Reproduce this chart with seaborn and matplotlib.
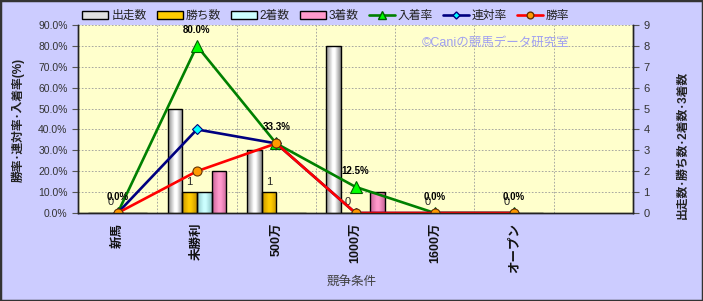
import numpy as np
import pandas as pd
import matplotlib
matplotlib.use("Agg")
import matplotlib.pyplot as plt
import seaborn as sns
from matplotlib.patches import Patch, Rectangle
from matplotlib.lines import Line2D
from matplotlib.colors import LinearSegmentedColormap
from matplotlib.ticker import MultipleLocator, FuncFormatter

# ---- data ----
categories = ["新馬", "未勝利", "500万", "1000万", "1600万", "オープン"]
starts = [0, 5, 3, 8, 0, 0]
wins = [0, 1, 1, 0, 0, 0]
seconds = [0, 1, 0, 0, 0, 0]
thirds = [0, 2, 0, 1, 0, 0]
place_rate = [0.0, 80.0, 33.3, 12.5, 0.0, 0.0]
rentai_rate = [0.0, 40.0, 33.3, 0.0, 0.0, 0.0]
win_rate = [0.0, 20.0, 33.3, 0.0, 0.0, 0.0]
count_names = ["出走数", "勝ち数", "2着数", "3着数"]
rate_names = ["入着率", "連対率", "勝率"]

sns.set_theme(style="white")
plt.rcParams["font.family"] = ["Liberation Sans", "Noto Sans CJK JP"]

df = pd.DataFrame({
    "条件": categories * 4,
    "系列": sum([[n] * len(categories) for n in count_names], []),
    "数": starts + wins + seconds + thirds,
})

bar_mid = ["#FFFFFF", "#FFCC00", "#CCFFFF", "#FF99CC"]
bar_edge = ["#8A8A8A", "#C89600", "#8FC8C8", "#C86496"]

fig = plt.figure(figsize=(7.03, 3.01), dpi=100, facecolor="#CCCCFF")
ax = fig.add_axes([78 / 703, 1 - 213 / 301, (633 - 78) / 703, (213 - 25) / 301])
ax.set_facecolor("#FFFFCC")

sns.barplot(data=df, x="条件", y="数", hue="系列", order=categories,
            hue_order=count_names, palette=bar_mid, width=0.74,
            edgecolor="black", linewidth=1.0, ax=ax, legend=False,
            errorbar=None, zorder=3)

# cylinder-like shading inside bars
grad = np.linspace(0, 1, 64).reshape(1, -1)
for cont, cm, ce in zip(ax.containers, bar_mid, bar_edge):
    cmap = LinearSegmentedColormap.from_list("g", [(0, ce), (0.45, cm), (0.6, cm), (1, ce)])
    for p in cont.patches:
        h = p.get_height()
        if h <= 0:
            continue
        x0, y0, w = p.get_x(), p.get_y(), p.get_width()
        im = ax.imshow(grad, cmap=cmap, extent=(x0, x0 + w, y0, y0 + h),
                       aspect="auto", zorder=2.9, interpolation="bilinear")
        im.set_clip_path(p)
        p.set_facecolor("none")

ax.bar_label(ax.containers[1], labels=[str(v) for v in wins], padding=4,
             fontsize=8, zorder=6)

ax2 = ax.twinx()
line_specs = [
    (place_rate, "#008000", "^", "#00FF00", "#006000", 8),
    (rentai_rate, "#000080", "D", "#00FFFF", "#000080", 4.8),
    (win_rate, "#FF0000", "o", "#FF9900", "#663300", 6.5),
]
for vals, lc, mk, mfc, mec, ms in line_specs:
    sns.pointplot(x=categories, y=vals, ax=ax2, color=lc, markers=mk,
                  errorbar=None, linewidth=1.9, markersize=ms,
                  markerfacecolor=mfc, markeredgecolor=mec,
                  markeredgewidth=0.8)

for i, v in enumerate(place_rate):
    ax2.annotate(f"{v:.1f}%", xy=(i, v), xytext=(0, 11.5),
                 textcoords="offset points", ha="center", va="center",
                 fontsize=7, fontweight="bold", color="black")

# axes setup
ax.set_xlim(-0.5, 6.5)
ax.set_ylim(0, 9)
ax2.set_ylim(0, 90)
ax.yaxis.tick_right()
ax.yaxis.set_label_position("right")
ax2.yaxis.tick_left()
ax2.yaxis.set_label_position("left")
ax.yaxis.set_major_locator(MultipleLocator(1))
ax2.yaxis.set_major_locator(MultipleLocator(10))
ax2.yaxis.set_major_formatter(FuncFormatter(lambda v, p: f"{v:.1f}%"))

ax.set_xticks(range(len(categories)))
ax.set_xticklabels(categories, rotation=90, fontsize=9, fontweight="bold")
ax.set_xticks(np.arange(0.5, 6.0, 1.0), minor=True)
ax.tick_params(axis="x", which="both", length=0, pad=7, labelcolor="#111111")
ax.tick_params(axis="y", which="major", labelsize=8, length=4, width=0.8,
               direction="out", color="#555555", labelcolor="#333333", right=True, left=False)
ax2.tick_params(axis="y", which="major", labelsize=7.5, length=4, width=0.8,
                direction="out", color="#555555", labelcolor="#333333", left=True, right=False)

ax.grid(True, axis="y", which="major", linestyle=(0, (2, 2)), color="#9a9a9a", linewidth=0.6, zorder=0)
ax.grid(True, axis="x", which="minor", linestyle=(0, (2, 2)), color="#9a9a9a", linewidth=0.6, zorder=0)
ax.grid(False, axis="x", which="major")
ax.set_axisbelow(True)
ax2.grid(False)

for a in (ax, ax2):
    a.set_xlabel("")
    a.set_ylabel("")
    a.spines["top"].set_visible(False)
    for s in ("left", "right", "bottom"):
        a.spines[s].set_color("#222222")
        a.spines[s].set_linewidth(1.0)

# axis titles
fig.text(18 / 703, 1 - 120 / 301, "勝率･連対率･入着率(%)", rotation=90,
         ha="center", va="center", fontsize=8.5, fontweight="bold", color="#222222")
fig.text(683 / 703, 1 - 145 / 301, "出走数･勝ち数･2着数･3着数", rotation=90,
         ha="center", va="center", fontsize=8.5, fontweight="bold", color="#222222")
fig.text(352 / 703, 1 - 283 / 301, "競争条件", ha="center", va="center",
         fontsize=9, color="#404040")

ax.text(0.752, 0.904, "©Caniの競馬データ研究室", transform=ax.transAxes,
        ha="center", va="center", fontsize=9, color="#A0A0F0", zorder=1)

# legend
handles = [Patch(facecolor=c, edgecolor="black", linewidth=1.0) for c in ["#E0E0E0", "#FFCC00", "#CCFFFF", "#FF99CC"]]
for vals, lc, mk, mfc, mec, ms in line_specs:
    handles.append(Line2D([], [], color=lc, linewidth=1.9, marker=mk,
                          markerfacecolor=mfc, markeredgecolor=mec,
                          markersize=ms * 0.75))
leg = fig.legend(handles, count_names + rate_names, loc="center",
                 bbox_to_anchor=(326 / 703, 1 - 16 / 301), ncol=7, frameon=False,
                 fontsize=8.5, handlelength=2.2, handleheight=0.7,
                 handletextpad=0.25, columnspacing=0.85, borderpad=0)
for t in leg.get_texts():
    t.set_color("#222222")

fig.patches.append(Rectangle((0, 0), 1, 1, transform=fig.transFigure,
                             fill=False, edgecolor="#333333", linewidth=2.5))

fig.savefig("out.png", dpi=100, facecolor=fig.get_facecolor())
